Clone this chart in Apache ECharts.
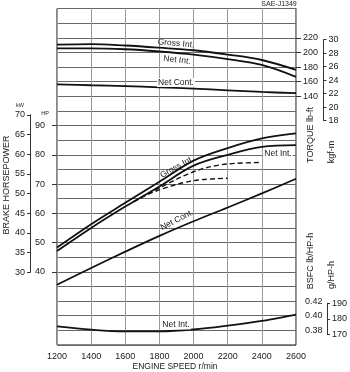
<!DOCTYPE html>
<html><head><meta charset="utf-8">
<script src="https://cdn.jsdelivr.net/npm/echarts@6/dist/echarts.min.js"></script>
<style>html,body{margin:0;padding:0;background:#fff}#c{width:350px;height:372px}</style>
</head><body><div id="c"></div>
<script>
// ---- data ----
const rpm = [1200, 1400, 1600, 1800, 2000, 2200, 2400, 2600];
const torqueGrossInt = [210.5, 211.4, 209.4, 206.4, 202.9, 197.0, 189.6, 176.0];
const torqueNetInt   = [205.6, 205.6, 204.3, 201.2, 197.0, 190.8, 182.8, 166.5];
const torqueNetCont  = [156.4, 155.1, 154.0, 152.3, 150.4, 148.2, 145.9, 144.2];
const powerGrossInt  = [48.3, 56.3, 63.6, 70.8, 78.0, 82.3, 85.6, 87.3];
const powerNetInt    = [47.1, 55.0, 62.3, 69.2, 76.3, 80.0, 82.7, 83.3];
const powerNetCont   = [35.6, 41.3, 46.9, 52.3, 57.3, 62.0, 66.8, 71.8];
const dashUpperRpm   = [1650, 1750, 1850, 1950, 2050, 2150, 2250, 2400];
const dashUpperHP    = [64.0, 67.2, 70.2, 73.0, 75.2, 76.5, 77.1, 77.4];
const dashLowerRpm   = [1650, 1750, 1850, 1950, 2050, 2200];
const dashLowerHP    = [64.0, 66.9, 69.0, 70.6, 71.5, 72.0];
const bsfcNetInt     = [0.3855, 0.381, 0.3787, 0.3787, 0.3812, 0.3865, 0.393, 0.4015];
const torqueTicks = [140, 160, 180, 200, 220];
const kgfmTicks   = [18, 20, 22, 24, 26, 28, 30];
const hpTicks     = [40, 50, 60, 70, 80, 90];
const kwTicks     = [30, 35, 40, 45, 50, 55, 60, 65, 70];
const bsfcTicks   = [0.38, 0.40, 0.42];
const gTicks      = [170, 180, 190];

// ---- layout ----
const FONT = "'Liberation Sans', Arial, sans-serif";
const TXT = '#1a1a1a';
const L = 57, W = 239, T = 8.5, H = 336.5, ROWS = 23, rH = H / ROWS;
const zip = (a, b) => a.map((v, i) => [v, b[i]]);

const chart = echarts.init(document.getElementById('c'), null, {renderer: 'canvas'});

const hiddenX = g => ({gridIndex: g, type: 'value', min: 1200, max: 2600, show: false});
const lbl = (extra) => Object.assign({fontFamily: FONT, fontSize: 9, color: TXT}, extra || {});

const grids = [
  {left: L, top: T, width: W, height: H, show: true, borderColor: '#111', borderWidth: 1, backgroundColor: 'transparent'},
  {left: L, top: T + 2 * rH, width: W, height: 4 * rH},            // torque labels
  {left: L, top: 39.7, width: 266.5, height: 81},                  // kgf-m
  {left: L, top: T + 8 * rH, width: W, height: 10 * rH},           // HP labels
  {left: 30, top: 114.8, width: 100, height: 157.6},               // kW
  {left: L, top: T + 20 * rH, width: W, height: 2 * rH},           // BSFC labels
  {left: L, top: 303.3, width: 271.3, height: 31}                  // g/HP-h
];

const xAxes = [
  {gridIndex: 0, type: 'value', min: 1200, max: 2600, interval: 200,
   axisLine: {show: false}, axisTick: {show: false},
   axisLabel: lbl({margin: 7, formatter: v => String(v)}),
   splitLine: {show: true, lineStyle: {color: '#9a9a9a', width: 1}}},
  hiddenX(1), hiddenX(2), hiddenX(3), hiddenX(4), hiddenX(5), hiddenX(6)
];

const noSplit = {show: false};
const yAxes = [
  // 0: row grid
  {gridIndex: 0, type: 'value', min: 0, max: ROWS, interval: 1, axisLabel: {show: false},
   axisLine: {show: false}, axisTick: {show: false},
   splitLine: {show: true, lineStyle: {color: '#666', width: 1}}},
  // 1: torque data scale (20 lb-ft per row)
  {gridIndex: 0, type: 'value', min: 260 - ROWS * 20, max: 260, show: false, splitLine: noSplit},
  // 2: HP data scale (5 HP per row)
  {gridIndex: 0, type: 'value', min: 130 - ROWS * 5, max: 130, show: false, splitLine: noSplit},
  // 3: BSFC data scale (0.02 per row)
  {gridIndex: 0, type: 'value', min: 0.82 - ROWS * 0.02, max: 0.82, show: false, splitLine: noSplit},
  // 4: torque labels
  {gridIndex: 1, type: 'value', position: 'right', min: torqueTicks[0], max: torqueTicks[torqueTicks.length - 1], interval: 20,
   axisLine: {show: false}, axisTick: {show: true, length: 5, lineStyle: {color: '#333'}},
   axisLabel: lbl({margin: 7}), splitLine: noSplit},
  // 5: kgf-m
  {gridIndex: 2, type: 'value', position: 'right', min: kgfmTicks[0], max: kgfmTicks[kgfmTicks.length - 1], interval: 2,
   axisLine: {show: true, lineStyle: {color: '#333', width: 1}}, axisTick: {show: true, length: 3, lineStyle: {color: '#333'}},
   axisLabel: lbl({margin: 5}), splitLine: noSplit},
  // 6: HP labels
  {gridIndex: 3, type: 'value', position: 'left', min: hpTicks[0], max: hpTicks[hpTicks.length - 1], interval: 10,
   axisLine: {show: false}, axisTick: {show: true, length: 5, lineStyle: {color: '#333'}},
   axisLabel: lbl({margin: 12}), splitLine: noSplit},
  // 7: kW
  {gridIndex: 4, type: 'value', position: 'left', min: kwTicks[0], max: kwTicks[kwTicks.length - 1], interval: 5,
   axisLine: {show: true, lineStyle: {color: '#333', width: 1}}, axisTick: {show: true, length: 3, lineStyle: {color: '#333'}},
   axisLabel: lbl({margin: 5}), splitLine: noSplit},
  // 8: BSFC labels
  {gridIndex: 5, type: 'value', position: 'right', min: bsfcTicks[0], max: bsfcTicks[bsfcTicks.length - 1], interval: 0.02,
   axisLine: {show: false}, axisTick: {show: false},
   axisLabel: lbl({margin: 9, formatter: v => v.toFixed(2)}), splitLine: noSplit},
  // 9: g/HP-h
  {gridIndex: 6, type: 'value', position: 'right', min: gTicks[0], max: gTicks[gTicks.length - 1], interval: 10,
   axisLine: {show: true, lineStyle: {color: '#333', width: 1}}, axisTick: {show: true, length: 3, lineStyle: {color: '#333'}},
   axisLabel: lbl({margin: 5}), splitLine: noSplit}
];

const curve = (data, yi, dashed) => ({
  type: 'line', xAxisIndex: 0, yAxisIndex: yi, data: data, smooth: 0.35, symbol: 'none',
  silent: true, z: 5,
  lineStyle: {color: '#111', width: dashed ? 1.4 : 1.8, type: dashed ? [5, 3] : 'solid'}
});

const series = [
  curve(zip(rpm, torqueGrossInt), 1),
  curve(zip(rpm, torqueNetInt), 1),
  curve(zip(rpm, torqueNetCont), 1),
  curve(zip(rpm, powerGrossInt), 2),
  curve(zip(rpm, powerNetInt), 2),
  curve(zip(rpm, powerNetCont), 2),
  curve(zip(dashUpperRpm, dashUpperHP), 2, true),
  curve(zip(dashLowerRpm, dashLowerHP), 2, true),
  curve(zip(rpm, bsfcNetInt), 3)
];

const txt = (x, y, text, size, opts) => Object.assign({
  type: 'text', x: x, y: y, z: 20,
  style: Object.assign({text: text, font: size + 'px ' + FONT, fill: TXT, align: 'center', verticalAlign: 'middle'}, (opts && opts.style) || {})
}, opts && opts.rotation !== undefined ? {rotation: opts.rotation} : {});

const V = Math.PI / 2;
const bg = {style: {backgroundColor: '#fff', padding: [0, 1]}};
const graphic = [
  txt(279, 4.5, 'SAE-J1349', 7),
  txt(20, 105, 'kW', 5.5),
  txt(45, 113, 'HP', 5.5),
  txt(7, 185, 'BRAKE HORSEPOWER', 9, {rotation: V}),
  txt(311, 135, 'TORQUE lb-ft', 9, {rotation: V}),
  txt(331.5, 152, 'kgf-m', 9, {rotation: V}),
  txt(311, 261, 'BSFC lb/HP-h', 9, {rotation: V}),
  txt(332, 275, 'g/HP-h', 9, {rotation: V}),
  txt(175, 366.5, 'ENGINE SPEED r/min', 8.5),
  // torque curve labels
  txt(176, 43.5, 'Gross Int.', 8.5, {rotation: -0.09}),
  txt(177, 60, 'Net Int.', 8.5, {rotation: -0.12}),
  txt(176, 82.5, 'Net Cont.', 8.5, bg),
  // power curve labels
  txt(177, 167, 'Gross Int.', 8.5, {rotation: 0.5}),
  txt(278, 154, 'Net Int.', 8.5, bg),
  txt(177, 220, 'Net Cont.', 8.5, {rotation: 0.48}),
  // bsfc
  txt(176, 325, 'Net Int.', 8.5, bg)
];

chart.setOption({
  animation: false,
  backgroundColor: '#fff',
  textStyle: {fontFamily: FONT},
  grid: grids,
  xAxis: xAxes,
  yAxis: yAxes,
  series: series,
  graphic: graphic
});
</script></body></html>
